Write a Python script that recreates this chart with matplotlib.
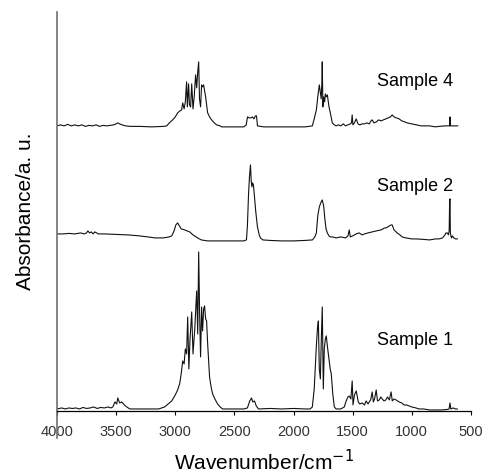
import numpy as np
import matplotlib.pyplot as plt

plt.rcParams['font.family'] = ['Liberation Sans', 'DejaVu Sans']

# Sample 1 spectrum (wavenumber, absorbance a.u.)
s1_wn = [4000, 3960, 3930, 3900, 3870, 3840, 3810, 3780, 3750, 3720, 3690, 3660, 3630, 3600, 3570, 3545,
         3528, 3510, 3495, 3486, 3470, 3452, 3430, 3410, 3384, 3300, 3200, 3140, 3114, 3090, 3060, 3030,
         3000, 2980, 2963, 2950, 2937, 2925, 2915, 2904, 2895, 2885, 2875, 2861, 2850, 2835, 2819, 2810,
         2802, 2794, 2786, 2777, 2769, 2760, 2752, 2743, 2735, 2726, 2718, 2710, 2697, 2684, 2665, 2642,
         2620, 2600, 2500, 2420, 2390, 2370, 2355, 2345, 2330, 2315, 2296, 2200, 2100, 2000, 1900, 1860,
         1841, 1825, 1815, 1807, 1798, 1790, 1782, 1773, 1765, 1757, 1748, 1740, 1731, 1723, 1714, 1700,
         1690, 1681, 1668, 1655, 1640, 1600, 1571, 1555, 1540, 1529, 1515, 1504, 1497, 1485, 1470, 1460,
         1453, 1440, 1419, 1400, 1386, 1370, 1360, 1348, 1335, 1325, 1315, 1301, 1290, 1275, 1262, 1250,
         1235, 1220, 1205, 1190, 1175, 1165, 1150, 1133, 1120, 1107, 1085, 1065, 1045, 1023, 1000, 964,
         940, 900, 850, 800, 750, 700, 685, 677, 670, 650, 630, 615]
s1_abs = [0, 1, 0, 1, 0.5, 1, 0, 1.5, 0.5, 1, 2, 0.5, 1.5, 1, 2, 1,
          2, 7, 5, 11, 6, 7, 4, 2, 0, 0, 0, 0, 1, 2, 5, 8,
          14, 19, 25, 35, 48, 45, 60, 55, 92, 40, 70, 97, 55, 80, 118, 75,
          157, 95, 52, 102, 78, 100, 103, 90, 88, 65, 48, 32, 22, 15, 10, 5,
          2, 0, 0, 0, 1, 8, 11, 7, 8, 3, 0, 0.5, 0, 0.5, 0, 0,
          2, 20, 45, 63, 80, 88, 40, 30, 70, 102, 20, 60, 70, 73, 63, 50,
          40, 35, 15, 2, 0, 0, 2, 8, 12, 13, 10, 28, 4, 14, 18, 12,
          7, 5, 6, 4, 8, 5, 7, 9, 17, 7, 10, 19, 8, 9, 12, 10,
          8, 9, 12, 9, 17, 8, 10, 9, 8, 7, 6, 4, 4, 3, 2, 1,
          0, 0, -1, -1, -1, -0.5, 0, 6, 0, 1, 0, 0]

# Sample 2 spectrum
s2_wn = [4000, 3950, 3900, 3850, 3800, 3770, 3750, 3739, 3725, 3710, 3695, 3680, 3665, 3650, 3600, 3500,
         3400, 3300, 3200, 3173, 3100, 3050, 3030, 3010, 2995, 2980, 2965, 2950, 2920, 2900, 2878, 2850,
         2811, 2780, 2727, 2600, 2500, 2420, 2398, 2390, 2380, 2372, 2364, 2358, 2352, 2346, 2339, 2330,
         2320, 2305, 2290, 2280, 2260, 2200, 2100, 2000, 1900, 1840, 1820, 1807, 1795, 1782, 1770, 1757,
         1745, 1735, 1725, 1714, 1700, 1690, 1672, 1640, 1600, 1560, 1540, 1529, 1520, 1500, 1470, 1445,
         1420, 1400, 1370, 1335, 1300, 1260, 1230, 1217, 1190, 1175, 1166, 1150, 1124, 1100, 1082, 1050,
         1000, 964, 900, 850, 800, 770, 740, 720, 711, 700, 690, 684, 680, 677, 674, 665,
         655, 645, 630, 615]
s2_abs = [7, 7, 7.5, 7, 8, 7, 8, 10, 8, 9, 7, 9, 8, 7, 7, 6.5,
          6, 5, 3.5, 3, 3, 4, 5, 10, 16, 18, 15, 12, 11, 10, 9, 6,
          3, 1, 0, 0, 0, 0, 1, 15, 48, 65, 76, 60, 54, 58, 56, 44,
          30, 14, 6, 3, 1, 0.5, 0, 0, 0.5, 1, 4, 8, 25, 34, 38, 41,
          35, 22, 12, 8, 5, 4, 4, 3, 4, 3, 5, 11, 4, 5, 7, 8,
          6, 7, 8, 9, 10, 11, 13, 13, 15, 16, 16, 11, 8, 6, 4, 3,
          2, 2, 1.5, 1, 2, 2, 3, 6, 8, 8, 6, 10, 40, 42, 8, 3,
          5, 3, 2, 2]

# Sample 4 spectrum
s4_wn = [4000, 3970, 3940, 3910, 3880, 3850, 3820, 3790, 3760, 3730, 3700, 3670, 3640, 3610, 3580, 3550,
         3520, 3500, 3486, 3470, 3450, 3420, 3380, 3300, 3200, 3100, 3072, 3050, 3022, 3000, 2980, 2960,
         2946, 2937, 2925, 2915, 2904, 2898, 2887, 2880, 2870, 2861, 2850, 2840, 2828, 2819, 2810, 2802,
         2795, 2786, 2777, 2768, 2760, 2752, 2743, 2735, 2726, 2710, 2693, 2670, 2651, 2620, 2608, 2500,
         2420, 2400, 2389, 2375, 2360, 2347, 2335, 2322, 2313, 2305, 2250, 2100, 2000, 1900, 1841, 1825,
         1807, 1795, 1782, 1774, 1766, 1760, 1757, 1752, 1745, 1737, 1731, 1722, 1714, 1700, 1689, 1672,
         1655, 1640, 1620, 1600, 1580, 1560, 1540, 1520, 1510, 1504, 1498, 1485, 1470, 1455, 1440, 1420,
         1400, 1380, 1360, 1345, 1335, 1320, 1300, 1280, 1260, 1240, 1220, 1200, 1180, 1166, 1150, 1130,
         1107, 1085, 1060, 1040, 1000, 964, 920, 880, 850, 800, 770, 720, 700, 680, 677, 674,
         650, 630, 612]
s4_abs = [1, 2, 1, 2.5, 1, 2, 1, 2, 0.5, 1.5, 1, 2, 0.5, 1.5, 1, 1.5,
          2, 3, 4, 3, 2, 1, 0.5, 0.5, 0, 0.5, 1, 4, 7, 10, 14, 16,
          17, 24, 18, 25, 45, 20, 43, 22, 20, 43, 18, 30, 52, 39, 55, 65,
          28, 20, 42, 40, 42, 36, 30, 22, 14, 10, 7, 4, 2, 1, 0, 0,
          0, 2, 10, 9, 9, 10, 8, 11, 11, 1, 0, 0, 0, 0, 1, 8,
          17, 30, 42, 35, 28, 45, 65, 20, 30, 25, 33, 30, 32, 20, 14, 4,
          2, 1, 2, 1, 3, 1, 2, 3, 4, 12, 2, 4, 8, 3, 2, 3,
          3, 4, 3, 6, 7, 4, 5, 7, 6, 7, 8, 9, 10, 12, 10, 9,
          8, 6, 5, 4, 3, 2, 1, 1, 1, 0, 0.5, 1, 1, 1, 10, 1,
          1, 1, 1]

labels = ['Sample 1', 'Sample 2', 'Sample 4']
offsets = [2, 170, 284]
label_y = [70, 224, 329]

fig = plt.figure(figsize=(4.83, 4.74), dpi=100)
ax = fig.add_axes([0.118, 0.133, 0.857, 0.842])

spectra = [(s1_wn, s1_abs), (s2_wn, s2_abs), (s4_wn, s4_abs)]
for (wn, ab), off, lab, ly in zip(spectra, offsets, labels, label_y):
    ax.plot(wn, np.array(ab) + off, color='#111111', lw=0.8)
    ax.text(972, ly, lab, fontsize=13, ha='center', va='center')

ax.set_xlim(4000, 500)
ax.set_ylim(0, 399)
ax.set_xticks(np.arange(4000, 499, -500))
ax.set_yticks([])
ax.tick_params(axis='x', direction='out', length=3, width=0.8, labelsize=10.5,
               labelcolor='#333333', pad=7)

for side in ['top', 'right', 'left']:
    ax.spines[side].set_visible(False)
ax.spines['bottom'].set_linewidth(0.9)

# left axis line runs down past the x axis
ax.plot([4000, 4000], [-27, 399], color='#707070', lw=1.2, clip_on=False)

ax.set_xlabel('Wavenumber/cm$^{-1}$', fontsize=15, labelpad=7)
ax.set_ylabel('Absorbance/a. u.', fontsize=15, labelpad=16)

plt.savefig('out.png', dpi=100)
